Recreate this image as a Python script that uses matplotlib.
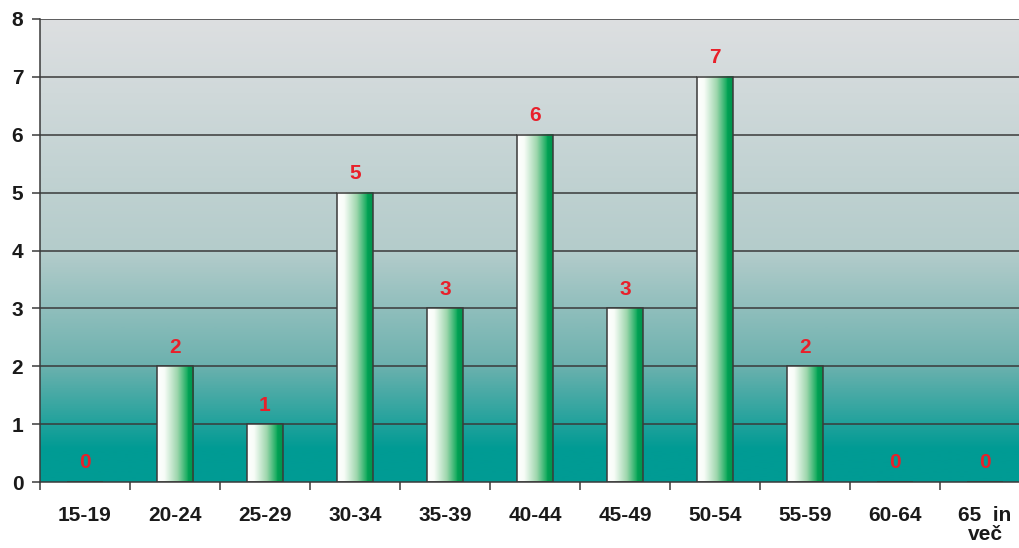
import numpy as np
import matplotlib
matplotlib.use("Agg")
import matplotlib.pyplot as plt
from matplotlib.colors import LinearSegmentedColormap

plt.rcParams['font.family'] = ['Liberation Sans', 'DejaVu Sans']

categories = ["15-19", "20-24", "25-29", "30-34", "35-39", "40-44",
              "45-49", "50-54", "55-59", "60-64", "65  in\nveč"]
counts = [0, 2, 1, 5, 3, 6, 3, 7, 2, 0, 0]
y_ticks = [0, 1, 2, 3, 4, 5, 6, 7, 8]

fig = plt.figure(figsize=(10.2, 5.48), dpi=100)
fig.patch.set_facecolor("white")
ax = fig.add_axes([40 / 1020, 66 / 548, 990 / 1020, 463 / 548])

n = len(categories)
ymax = y_ticks[-1]
ax.set_xlim(0, n)
ax.set_ylim(0, ymax)

# background: grey at the top fading into teal towards the baseline
bg_cmap = LinearSegmentedColormap.from_list(
    "bg",
    [(0.0, (0 / 255, 155 / 255, 148 / 255)),
     (0.07, (0 / 255, 155 / 255, 148 / 255)),
     (0.25, (108 / 255, 177 / 255, 174 / 255)),
     (0.5, (180 / 255, 204 / 255, 203 / 255)),
     (1.0, (221 / 255, 223 / 255, 225 / 255))])
grad = np.linspace(0, 1, 512).reshape(-1, 1)
ax.imshow(grad, cmap=bg_cmap, origin="lower", aspect="auto",
          extent=(0, n, 0, ymax), zorder=0, interpolation="bilinear")

# horizontal grid lines
for yv in y_ticks[1:]:
    ax.axhline(yv, color="#3a3a3a", lw=1.1, zorder=1)

# bars with a white-to-green horizontal gradient
bar_cmap = LinearSegmentedColormap.from_list(
    "bar",
    [(0.0, (1, 1, 1)),
     (0.2, (0.97, 0.99, 0.97)),
     (0.55, (0.62, 0.84, 0.68)),
     (0.82, (0.1, 0.68, 0.38)),
     (0.85, (0.0, 0.63, 0.33)),
     (1.0, (0.0, 0.58, 0.30))])
bar_w = 0.4
xs = np.arange(n) + 0.5
bars = ax.bar(xs, counts, width=bar_w, facecolor="none",
              edgecolor="#3a3a3a", lw=1.1, zorder=3)
hgrad = np.linspace(0, 1, 256).reshape(1, -1)
for rect, v in zip(bars, counts):
    if v <= 0:
        continue
    x0 = rect.get_x()
    ax.imshow(hgrad, cmap=bar_cmap, aspect="auto",
              extent=(x0, x0 + rect.get_width(), 0, v),
              zorder=2, interpolation="bilinear")

# value labels
for x, v in zip(xs, counts):
    ax.text(x, v + 0.33, str(v), ha="center", va="center",
            color="#e8202a", fontsize=15, fontweight="bold", zorder=4)

# axes styling
for side in ("top", "right"):
    ax.spines[side].set_visible(False)
ax.spines["left"].set_color("#3a3a3a")
ax.spines["bottom"].set_color("#3a3a3a")
ax.spines["left"].set_linewidth(1.1)
ax.spines["bottom"].set_linewidth(1.1)

ax.set_yticks(y_ticks)
ax.set_yticklabels([str(t) for t in y_ticks], fontsize=15, fontweight="bold",
                   color="#1a1a1a")
ax.tick_params(axis="y", length=6, width=1.1, color="#3a3a3a", pad=6)

ax.set_xticks(np.arange(n + 1))
ax.set_xticklabels([])
ax.tick_params(axis="x", which="major", length=6, width=1.1,
               color="#3a3a3a", direction="out")
ax.set_xticks(xs, minor=True)
ax.set_xticklabels(categories, minor=True, fontsize=15, fontweight="bold",
                   color="#1a1a1a", va="top", linespacing=1.05)
ax.tick_params(axis="x", which="minor", length=0, pad=17)

fig.savefig("out.png", dpi=100, facecolor="white")
